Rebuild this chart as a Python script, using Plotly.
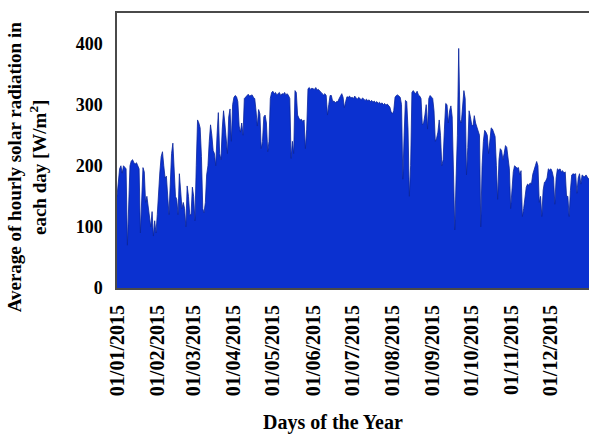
import pandas as pd
import plotly.graph_objects as go

jan = [150,170,195,200,188,200,198,195,70,150,
       200,208,210,205,203,205,200,195,90,150,
       197,190,140,150,130,120,100,125,85,110,
       90]
feb = [120,160,190,215,223,200,180,183,150,120,
       170,220,237,190,150,145,120,187,160,130,
       140,130,100,167,150,120,120,165]
mar = [150,110,200,275,270,262,215,130,123,140,
       185,200,240,267,250,225,220,200,250,287,
       220,210,260,290,270,250,220,280,293,240,
       300]
apr = [312,315,313,305,265,255,270,250,310,312,
       315,317,314,315,316,312,310,290,265,292,
       285,228,240,280,283,270,223,240,310,320]
may = [322,318,320,316,318,320,315,318,317,320,
       316,318,315,310,212,240,220,323,320,283,
       278,275,276,272,275,228,260,326,328,325,
       327]
jun = [326,325,328,324,325,322,320,318,316,318,
       315,283,300,315,315,305,306,303,305,305,
       310,315,318,312,295,305,313,312,314,311]
jul = [312,310,314,311,309,312,310,308,311,309,
       307,309,306,308,305,307,304,306,303,305,
       302,304,301,303,300,302,299,301,298,296,
       288]
aug = [285,290,312,315,316,314,312,300,178,250,
       307,305,260,150,200,320,323,320,318,322,
       316,314,310,267,270,283,300,260,310,315,
       313]
sep = [310,290,240,245,255,275,250,200,210,260,
       302,300,270,290,298,280,200,95,180,250,
       392,275,270,300,323,310,185,230,290,280]
oct_ = [267,265,282,270,262,255,250,100,200,240,
        258,255,250,220,240,262,260,252,248,200,
        145,210,228,225,210,220,233,230,215,195,
        130]
nov = [170,190,200,198,196,197,185,192,117,130,
       150,165,170,168,172,170,186,195,200,207,
       200,140,150,117,160,173,175,180,195,193]
dec = [195,190,180,137,180,195,193,195,190,192,
       188,190,150,150,117,160,185,187,186,187,
       155,180,187,170,185,183,182,185,180,178,
       182]

values = jan + feb + mar + apr + may + jun + jul + aug + sep + oct_ + nov + dec
dates = pd.date_range("2015-01-01", periods=len(values), freq="D")

tick_dates = pd.date_range("2015-01-01", periods=12, freq="MS")
tick_labels = [d.strftime("%d/%m/%Y") for d in tick_dates]
y_ticks = [0, 100, 200, 300, 400]

FONT = "Liberation Serif"

fig = go.Figure()
fig.add_trace(go.Scatter(
    x=dates, y=values, mode="lines", fill="tozeroy",
    line=dict(color="#0a259c", width=0.8),
    fillcolor="#0b31d0", hoverinfo="skip", showlegend=False,
))

fig.update_layout(
    width=589, height=443,
    margin=dict(l=117, r=0, t=13, b=155),
    paper_bgcolor="white", plot_bgcolor="white",
    font=dict(family=FONT, color="black"),
    xaxis=dict(
        range=[pd.Timestamp("2015-01-01"), pd.Timestamp("2015-12-30 07:00")],
        tickmode="array", tickvals=tick_dates, ticktext=tick_labels,
        tickangle=-90, showgrid=False, zeroline=False,
        showline=True, mirror=True, linecolor="#4a4a4a", linewidth=2,
        ticks="", ticklabelstandoff=7,
        tickfont=dict(family=FONT, size=20, color="black", weight="bold"),
    ),
    yaxis=dict(
        range=[0, 450], tickvals=y_ticks, showgrid=False, zeroline=False,
        showline=True, linecolor="#4a4a4a", linewidth=1.5, ticks="",
        ticklabelstandoff=9,
        tickfont=dict(family=FONT, size=18, color="black", weight="bold"),
    ),
    annotations=[
        dict(text="<b>Average of hourly solar radiation in<br>each day [W/m<sup>2</sup>]</b>",
             xref="paper", yref="paper", x=-0.19, y=0.44, showarrow=False,
             textangle=-90, font=dict(family=FONT, size=19, color="black"),
             xanchor="center", yanchor="middle"),
        dict(text="<b>Days of the Year</b>", xref="paper", yref="paper",
             x=0.4576, y=-0.49, showarrow=False,
             font=dict(family=FONT, size=20, color="black"),
             xanchor="center", yanchor="middle"),
    ],
)

fig.write_html("out.html")
